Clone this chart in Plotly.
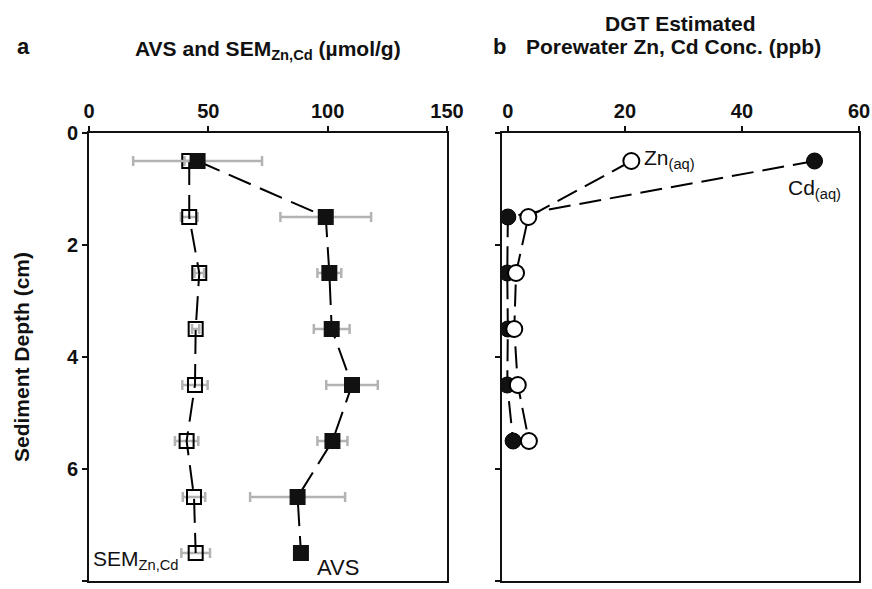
import plotly.graph_objects as go

# ---- data ----
depth = [0.5, 1.5, 2.5, 3.5, 4.5, 5.5, 6.5, 7.5]
avs = [45.5, 99.2, 100.7, 101.7, 110.2, 102.0, 87.4, 88.8]
avs_err = [27.0, 19.0, 5.0, 7.5, 10.8, 6.3, 19.9, 2.0]
sem = [42.0, 42.0, 46.2, 44.7, 44.4, 40.9, 44.0, 44.7]
sem_err = [2.0, 3.5, 2.0, 1.5, 5.3, 4.9, 4.7, 6.0]

depth_b = [0.5, 1.5, 2.5, 3.5, 4.5, 5.5]
cd_aq = [52.4, 0.0, -0.1, 0.0, -0.1, 0.9]
zn_aq = [21.1, 3.5, 1.4, 1.1, 1.7, 3.6]

x_ticks_a = [0, 50, 100, 150]
x_ticks_b = [0, 20, 40, 60]
y_ticks = [0, 2, 4, 6, 8]

FONT = "Liberation Sans, Arial, Helvetica, sans-serif"
W, H = 872, 589

def px(x):
    return x / W

def py(y):
    return 1 - y / H

fig = go.Figure()

dash_a = "24px,10px"
dash_b = "22px,9px"
grey = "#b3b3b3"

fig.add_trace(go.Scatter(
    x=sem, y=depth, mode="lines+markers", xaxis="x", yaxis="y",
    line=dict(color="black", width=2, dash=dash_a),
    marker=dict(symbol="square-open", size=14, color="black", line=dict(width=2, color="black")),
    error_x=dict(type="data", array=sem_err, color=grey, thickness=2.5, width=5),
    showlegend=False, hoverinfo="skip"))
fig.add_trace(go.Scatter(
    x=avs, y=depth, mode="lines+markers", xaxis="x", yaxis="y",
    line=dict(color="black", width=2, dash=dash_a),
    marker=dict(symbol="square", size=16, color="#111111", line=dict(width=0)),
    error_x=dict(type="data", array=avs_err, color=grey, thickness=2.5, width=5),
    showlegend=False, hoverinfo="skip"))

fig.add_trace(go.Scatter(
    x=cd_aq, y=depth_b, mode="lines+markers", xaxis="x2", yaxis="y2",
    line=dict(color="black", width=2, dash=dash_b),
    marker=dict(symbol="circle", size=16, color="#111111", line=dict(width=1, color="black")),
    showlegend=False, hoverinfo="skip"))
fig.add_trace(go.Scatter(
    x=zn_aq, y=depth_b, mode="lines+markers", xaxis="x2", yaxis="y2",
    line=dict(color="black", width=2, dash=dash_b),
    marker=dict(symbol="circle", size=16, color="white", line=dict(width=2, color="black")),
    showlegend=False, hoverinfo="skip"))

tickfont = dict(family=FONT, size=20, color="#111111")
axis_common = dict(showgrid=False, zeroline=False, showline=True, linecolor="#111111",
                   linewidth=2, mirror=True, ticks="outside", ticklen=5, tickwidth=2,
                   tickcolor="#111111", tickfont=tickfont, automargin=False)

ydom = [py(581), py(133)]

fig.update_layout(
    template="none",
    width=W, height=H,
    margin=dict(l=0, r=0, t=0, b=0),
    paper_bgcolor="white", plot_bgcolor="white",
    font=dict(family=FONT, color="#111111"),
    xaxis=dict(domain=[px(89), px(447)], range=[0, 150], side="top", anchor="y",
               tickvals=x_ticks_a, ticktext=[f"<b>{v}</b>" for v in x_ticks_a], **axis_common),
    yaxis=dict(domain=ydom, range=[8, 0], anchor="x",
               tickvals=y_ticks, ticktext=[f"<b>{v}</b>" for v in y_ticks], **axis_common),
    xaxis2=dict(domain=[px(502), px(859)], range=[-1.0, 60], side="top", anchor="y2",
                tickvals=x_ticks_b, ticktext=[f"<b>{v}</b>" for v in x_ticks_b], **axis_common),
    yaxis2=dict(domain=ydom, range=[8, 0], anchor="x2", showticklabels=False,
                tickvals=y_ticks, **axis_common),
)

def ann(text, x, y, size=21, xanchor="center", yanchor="middle", xref="paper", yref="paper", **kw):
    fig.add_annotation(text=text, x=x, y=y, xref=xref, yref=yref, showarrow=False,
                       xanchor=xanchor, yanchor=yanchor,
                       font=dict(family=FONT, size=size, color="#111111"), **kw)

# panel labels and titles
ann("<b>a</b>", px(23), py(47), size=22)
ann("<b>AVS and SEM<sub>Zn,Cd</sub> (µmol/g)</b>", px(268), py(50), size=21)
ann("<b>b</b>", px(499), py(47), size=22)
ann("<b>DGT Estimated</b>", px(680), py(23), size=21)
ann("<b>Porewater Zn, Cd Conc. (ppb)</b>", px(673), py(47), size=21)
ann("<b>Sediment Depth (cm)</b>", px(22), py(357), size=21, textangle=-90)

# in-plot labels
ann("SEM<sub>Zn,Cd</sub>", 1.0, 7.62, xref="x", yref="y", xanchor="left", yanchor="middle")
ann("AVS", 94.5, 7.75, xref="x", yref="y", xanchor="left", yanchor="middle", size=22)
ann("Zn<sub>(aq)</sub>", 23.0, 0.47, xref="x2", yref="y2", xanchor="left", yanchor="middle")
ann("Cd<sub>(aq)</sub>", 47.6, 1.0, xref="x2", yref="y2", xanchor="left", yanchor="middle")

# remove the default page margin so the figure sits at the window's corner
fig.write_html(
    "out.html",
    config={"displayModeBar": False},
    post_script="document.body.style.margin='0';document.body.style.overflow='hidden';",
)
